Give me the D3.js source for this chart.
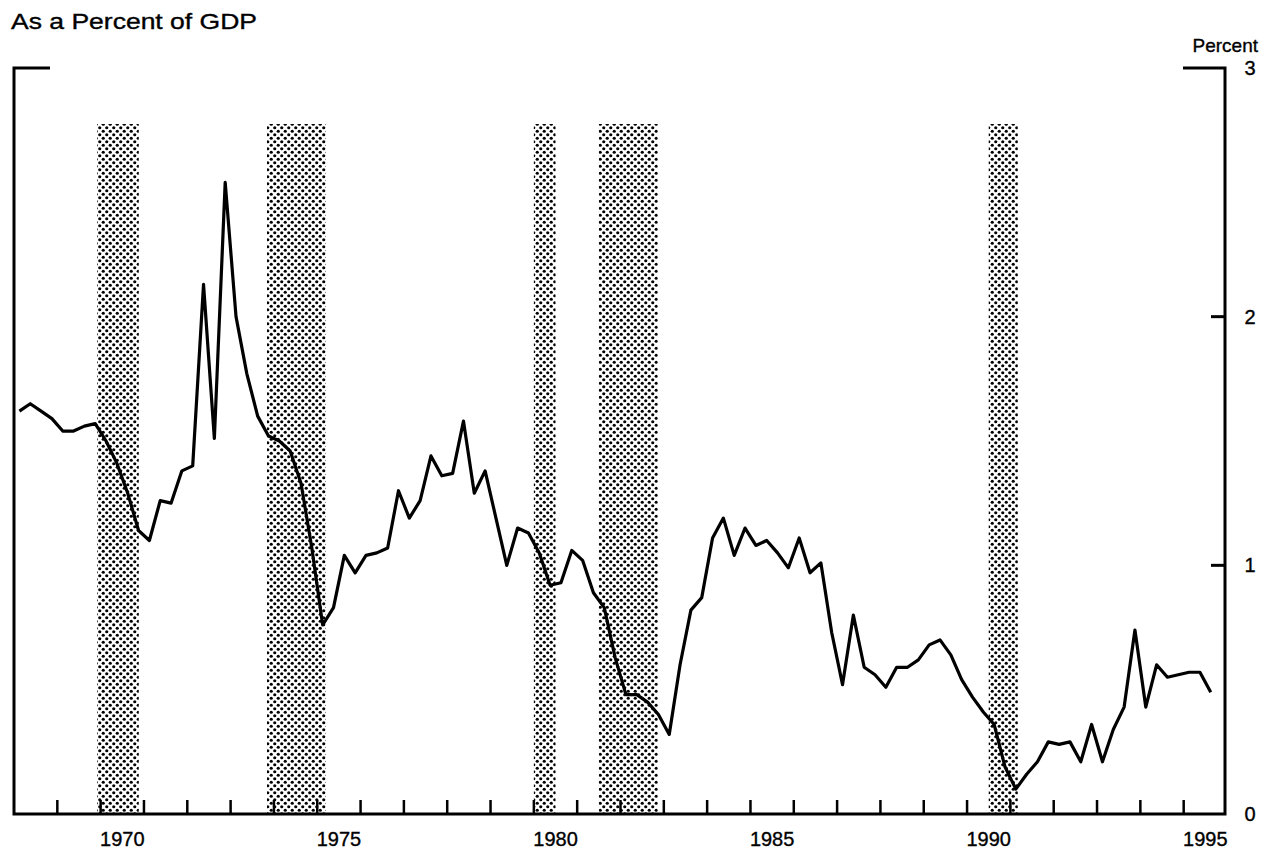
<!DOCTYPE html>
<html>
<head>
<meta charset="utf-8">
<script src="https://cdn.jsdelivr.net/npm/d3@7"></script>
<style>
  body { margin: 0; background: #fff; }
  text { font-family: "Liberation Sans", Arial, Helvetica, sans-serif; fill: #000; stroke: #000; stroke-width: 0.35px; }
</style>
</head>
<body>
<svg id="mainsvg" width="1281" height="854"></svg>
<script>
// quarterly series, first value is 1968 Q1
const startYear = 1968
const values = [
  1.62, 1.65, 1.62, 1.59, 1.54, 1.54, 1.56, 1.57,
  1.50, 1.41, 1.29, 1.14, 1.10, 1.26, 1.25, 1.38,
  1.40, 2.13, 1.51, 2.54, 2.00, 1.77, 1.60, 1.52,
  1.50, 1.46, 1.33, 1.07, 0.76, 0.83, 1.04, 0.97,
  1.04, 1.05, 1.07, 1.30, 1.19, 1.26, 1.44, 1.36,
  1.37, 1.58, 1.29, 1.38, 1.19, 1.00, 1.15, 1.13,
  1.05, 0.92, 0.93, 1.06, 1.02, 0.89, 0.83, 0.63,
  0.48, 0.48, 0.45, 0.40, 0.32, 0.60, 0.82, 0.87,
  1.11, 1.19, 1.04, 1.15, 1.08, 1.10, 1.05, 0.99,
  1.11, 0.97, 1.01, 0.73, 0.52, 0.80, 0.59, 0.56,
  0.51, 0.59, 0.59, 0.62, 0.68, 0.70, 0.64, 0.54,
  0.47, 0.41, 0.36, 0.19, 0.10, 0.16, 0.21, 0.29,
  0.28, 0.29, 0.21, 0.36, 0.21, 0.34, 0.43, 0.74,
  0.43, 0.60, 0.55, 0.56, 0.57, 0.57, 0.49
]

// recession periods (decimal years)
const recessionStart = [1969.92, 1973.84, 1980.0, 1981.5, 1990.5]
const recessionEnd   = [1970.88, 1975.2, 1980.5, 1982.86, 1991.17]

const labelYears = [1970, 1975, 1980, 1985, 1990, 1995]
const yTicks = [0, 1, 2, 3]

const svg = d3.select('#mainsvg')

const x = d3.scaleLinear().domain([1968, 1996]).range([14, 1227])
const y = d3.scaleLinear().domain([0, 3]).range([814, 68])

// halftone dot pattern for the shaded bars
const pat = svg.append('defs').append('pattern')
  .attr('id', 'dots')
  .attr('patternUnits', 'userSpaceOnUse')
  .attr('width', 7)
  .attr('height', 7)
pat.append('circle').attr('cx', 1.75).attr('cy', 1.75).attr('r', 1.6).attr('fill', '#000')
pat.append('circle').attr('cx', 5.25).attr('cy', 5.25).attr('r', 1.6).attr('fill', '#000')

svg.append('g').selectAll('rect')
  .data(recessionStart)
  .join('rect')
  .attr('x', (d) => x(d))
  .attr('y', 124)
  .attr('width', (d, i) => x(recessionEnd[i]) - x(d))
  .attr('height', y(0) - 124)
  .attr('fill', 'url(#dots)')

// axes frame
const left = x.range()[0]
const right = 1225
svg.append('path')
  .attr('d', `M${left + 36},${y(3)} L${left},${y(3)} L${left},${y(0)} L${right},${y(0)} L${right},${y(3)} L${right - 42},${y(3)}`)
  .attr('fill', 'none')
  .attr('stroke', '#000')
  .attr('stroke-width', 3)

// yearly ticks on bottom axis
const years = d3.range(1969, 1996)
svg.append('g').selectAll('line')
  .data(years)
  .join('line')
  .attr('x1', (d) => x(d))
  .attr('x2', (d) => x(d))
  .attr('y1', y(0))
  .attr('y2', y(0) - 14)
  .attr('stroke', '#000')
  .attr('stroke-width', 2.5)

svg.append('g').selectAll('text')
  .data(labelYears)
  .join('text')
  .attr('x', (d) => x(d + 0.5))
  .attr('y', 846)
  .attr('text-anchor', 'middle')
  .attr('font-size', '20px')
  .text((d) => d)

// right value axis
svg.append('g').selectAll('line')
  .data([1, 2])
  .join('line')
  .attr('x1', right)
  .attr('x2', right - 14)
  .attr('y1', (d) => y(d))
  .attr('y2', (d) => y(d))
  .attr('stroke', '#000')
  .attr('stroke-width', 3)

svg.append('g').selectAll('text')
  .data(yTicks)
  .join('text')
  .attr('x', 1250)
  .attr('y', (d) => y(d) + 7)
  .attr('text-anchor', 'middle')
  .attr('font-size', '20px')
  .text((d) => d)

svg.append('text')
  .attr('x', 1258)
  .attr('y', 52)
  .attr('text-anchor', 'end')
  .attr('font-size', '19px')
  .text('Percent')

svg.append('text')
  .attr('x', 11)
  .attr('y', 29)
  .attr('font-size', '22px')
  .attr('textLength', 246)
  .attr('lengthAdjust', 'spacingAndGlyphs')
  .text('As a Percent of GDP')

// the series line
const line = d3.line()
  .x((d, i) => x(startYear + i / 4 + 0.125))
  .y((d) => y(d))

svg.append('path')
  .datum(values)
  .attr('d', line)
  .attr('fill', 'none')
  .attr('stroke', '#000')
  .attr('stroke-width', 3.2)
  .attr('stroke-linejoin', 'round')
</script>
</body>
</html>
